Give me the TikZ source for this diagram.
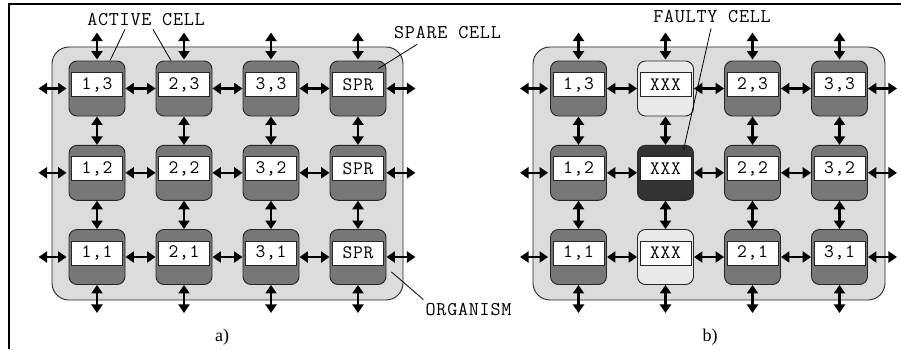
\documentclass[tikz,border=0pt]{standalone}
\usepackage{fontspec}
\setmainfont{Liberation Serif}
\setmonofont{Latin Modern Mono}[LetterSpace=4]
\usetikzlibrary{arrows.meta,calc}
\definecolor{orgfill}{HTML}{DCDCDC}
\definecolor{cellfill}{HTML}{777777}
\definecolor{faultfill}{HTML}{333333}
\definecolor{sparefill}{HTML}{E9E9E9}
\tikzset{
  orgbox/.style={draw=black!85, line width=0.9pt, fill=orgfill, rounded corners=17pt},
  cellbox/.style={draw=black!85, line width=0.9pt, fill=cellfill, rounded corners=8pt, minimum width=56pt, minimum height=55pt, inner sep=0pt},
  sparebox/.style={cellbox, fill=sparefill},
  faultbox/.style={cellbox, fill=faultfill},
  lbl/.style={draw=black!85, line width=0.8pt, fill=white, minimum width=51pt, minimum height=24pt, inner sep=0pt, font=\ttfamily\fontsize{19}{19}\selectfont},
  dbl/.style={line width=2.3pt, {Triangle[length=8.5pt,width=11pt]}-{Triangle[length=8.5pt,width=11pt]}},
  note/.style={font=\ttfamily\fontsize{19.5}{19.5}\selectfont, inner sep=0pt},
  ptr/.style={line width=0.8pt},
  captext/.style={font=\fontsize{18}{18}\selectfont, inner sep=0pt}
}
\begin{document}
\begin{tikzpicture}[x=1pt,y=-1pt]
\useasboundingbox (0,0) rectangle (901,349);
% frame
\draw[line width=1.4pt] (9,349) -- (9,4) -- (901,4);
% ---------- panel a ----------
\draw[orgbox] (52,47) rectangle (403,300);
\foreach \i/\x in {1/97,2/184,3/271,4/358}{
  \foreach \j/\y in {1/257,2/172.8,3/88.5}{
    \node[cellbox] (a\i\j) at (\x,\y) {};
    \node[lbl] (la\i\j) at (\x,\y-4) {\ifnum\i<4 \i,\j\else SPR\fi};
  }
}
% ---------- panel b ----------
\draw[orgbox] (533,47) rectangle (885,300);
\foreach \i/\x/\c in {1/578.5/1,2/665.5/0,3/752.5/2,4/839.5/3}{
  \foreach \j/\y in {1/257,2/172.8,3/88.5}{
    \ifnum\i=2
      \ifnum\j=2
        \node[faultbox] (b\i\j) at (\x,\y) {};
      \else
        \node[sparebox] (b\i\j) at (\x,\y) {};
      \fi
      \node[lbl] (lb\i\j) at (\x,\y-4) {XXX};
    \else
      \node[cellbox] (b\i\j) at (\x,\y) {};
      \node[lbl] (lb\i\j) at (\x,\y-4) {\c,\j};
    \fi
  }
}
% ---------- arrows ----------
\foreach \p in {a,b}{
  \foreach \j in {1,2,3}{
    \draw[dbl] ($(\p1\j.west)+(-2,0)$) -- ++(-28,0);
    \foreach \i/\k in {1/2,2/3,3/4}{
      \draw[dbl] (\p\i\j.east) -- (\p\k\j.west);
    }
    \draw[dbl] (\p4\j.east) -- ++(29,0);
  }
  \foreach \i in {1,2,3,4}{
    \draw[dbl] ($(\p\i3.north)+(0,-1)$) -- ++(0,-27);
    \draw[dbl] (\p\i3.south) -- (\p\i2.north);
    \draw[dbl] (\p\i2.south) -- (\p\i1.north);
    \draw[dbl] (\p\i1.south) -- ++(0,28);
  }
}
% ---------- annotations ----------
\node[note] (active) at (146,20) {ACTIVE CELL};
\draw[ptr] ($(active.south)+(-21,3)$) -- ($(a13.north)+(13,0)$);
\draw[ptr] ($(active.south)+(7,3)$) -- ($(a23.north)+(-13,0)$);
\node[note] (spare) at (447.5,33) {SPARE CELL};
\draw[ptr] ($(spare.south west)+(23,5)$) -- ($(a43.north east)+(-8,8)$);
\node[note] (faulty) at (712,17) {FAULTY CELL};
\draw[ptr] ($(faulty.south)+(-1,5)$) -- ($(b22.north)+(18,5)$);
\node[note] (org) at (468.5,310) {ORGANISM};
\draw[ptr] ($(org.north west)+(-2,-4)$) -- ($(a41.south east)+(5,-13)$);
\node[captext] (capa) at (222,337) {a)};
\node[captext] (capb) at (710,337) {b)};
\end{tikzpicture}
\end{document}
